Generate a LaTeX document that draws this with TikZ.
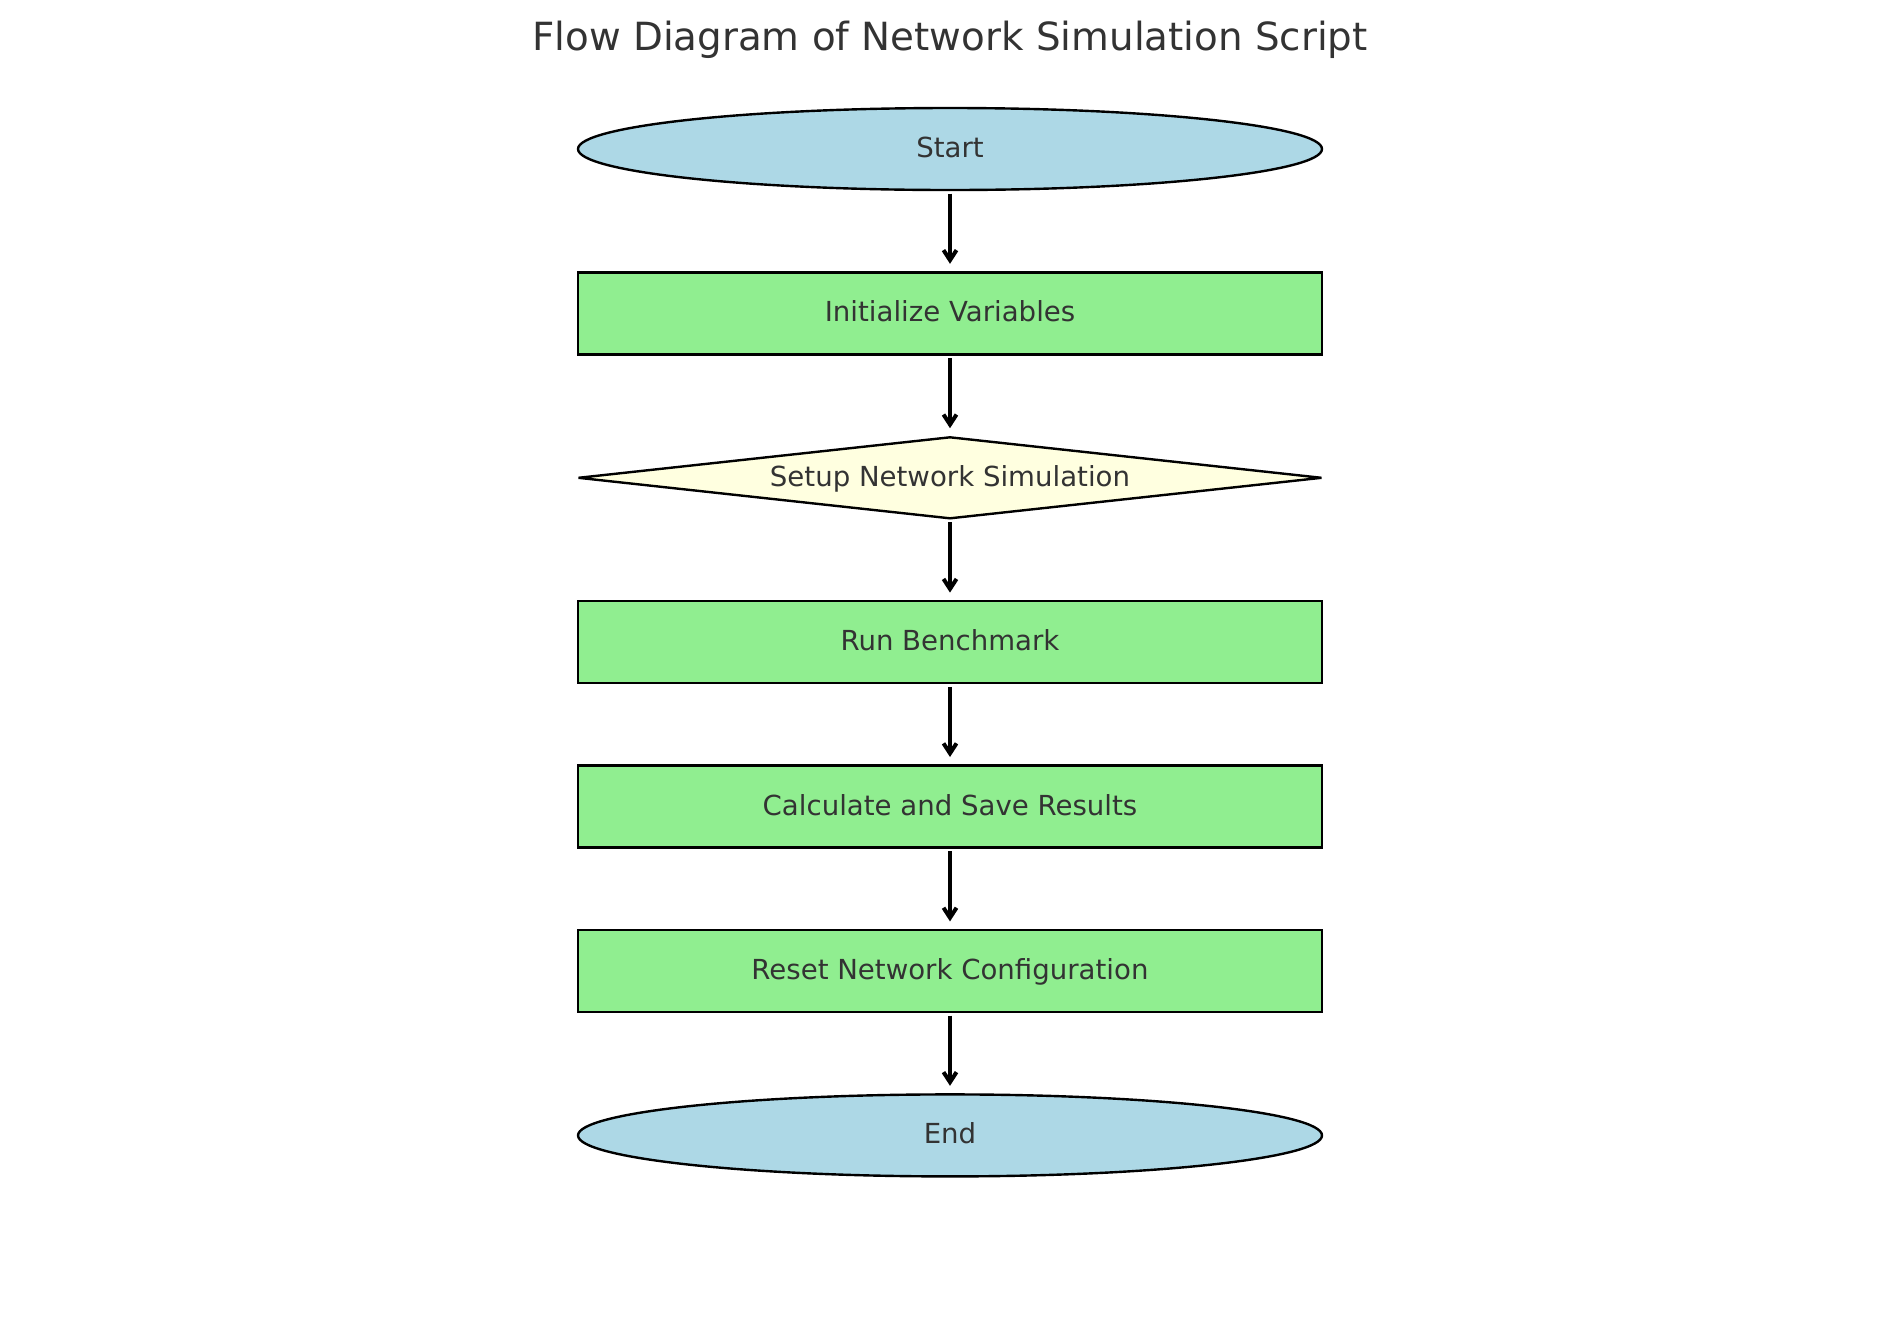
\documentclass[tikz,border=0pt]{standalone}
\usepackage{fontspec}
\setmainfont{DejaVu Sans}
\usetikzlibrary{arrows.meta,positioning,shapes.geometric}
\definecolor{termblue}{HTML}{ADD8E6}
\definecolor{procgreen}{HTML}{90EE90}
\definecolor{decyellow}{HTML}{FFFFE0}
\definecolor{labelgray}{HTML}{333333}

\begin{document}
\begin{tikzpicture}[>={Straight Barb[length=5pt,width=6.5pt]},
  every node/.style={text=labelgray, font=\fontsize{13.8}{16}\selectfont, text height=8.5pt, text depth=0pt},
  terminal/.style={ellipse, draw, line width=1.2pt, fill=termblue, minimum width=372pt, minimum height=41pt},
  process/.style={rectangle, draw, line width=1.2pt, fill=procgreen, minimum width=372pt, minimum height=41pt},
  decision/.style={diamond, draw, line width=1.2pt, line join=bevel, fill=decyellow, aspect=9.1, inner sep=0pt, minimum width=372pt, minimum height=41pt},
  node distance=40pt]
  \useasboundingbox (0,0) rectangle (950pt,-659pt);
  \node[anchor=base, font=\fontsize{19.4}{23}\selectfont] (title) at (475pt,-25pt) {Flow Diagram of Network Simulation Script};
  \node[terminal] (start) at (475pt,-74.5pt) {Start};
  \node[process] (init) [below=of start] {Initialize Variables};
  \node[decision] (setup) [below=of init] {Setup Network Simulation};
  \node[process] (bench) [below=of setup] {Run Benchmark};
  \node[process] (save) [below=of bench] {Calculate and Save Results};
  \node[process] (reset) [below=of save] {Reset Network Configuration};
  \node[terminal] (end) [below=of reset] {End};
  \path[->, line width=2pt, shorten >=3.7pt, shorten <=1.2pt]
  (start) edge (init)
  (init) edge (setup)
  (setup) edge (bench)
  (bench) edge (save)
  (save) edge (reset)
  (reset) edge (end);
\end{tikzpicture}
\end{document}
